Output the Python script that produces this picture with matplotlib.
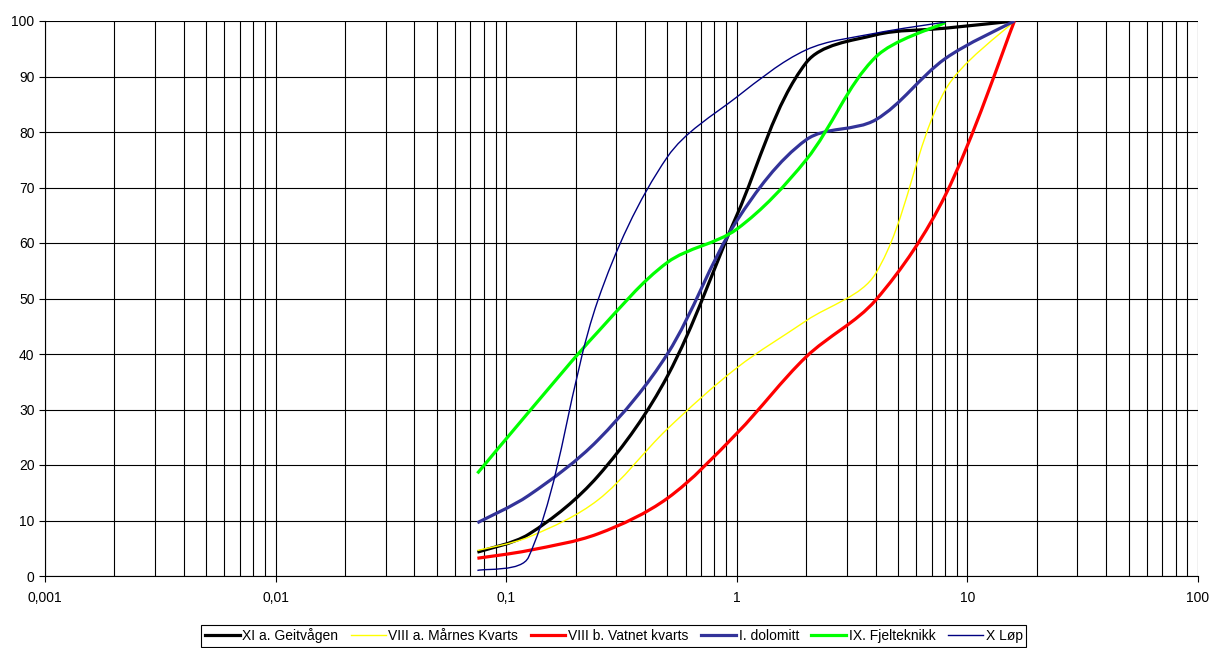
import numpy as np
import matplotlib
matplotlib.use("Agg")
import matplotlib.pyplot as plt
from matplotlib.path import Path
from matplotlib.patches import PathPatch
from matplotlib.lines import Line2D
from matplotlib.ticker import FixedLocator, FuncFormatter, LogLocator

plt.rcParams['font.family'] = ['Liberation Sans', 'DejaVu Sans']

# sieve sizes (mm)
sieves = [0.075, 0.125, 0.25, 0.5, 1, 2, 4, 8, 16]
sieves_short = [0.075, 0.125, 0.25, 0.5, 1, 2, 4, 8]

# passing (%)
geitvagen = [4.3, 7.5, 18, 36, 65, 92.5, 97.5, 98.7, 100]
marnes = [4.6, 7.0, 13.7, 26.5, 37.5, 46, 54.5, 87.5, 100]
vatnet = [3.2, 4.6, 7.6, 14, 25.7, 39.5, 49.7, 68.5, 100]
dolomitt = [9.6, 14.5, 24.5, 40, 64, 78.6, 82.2, 93.2, 100]
fjelteknikk = [18.5, 29.5, 44, 56.5, 62.5, 75, 93.5, 99.7]
lop = [1.0, 3.4, 49.7, 75.5, 86.3, 94.8, 97.8, 99.8]

series = [
    ("XI a. Geitvågen", sieves, geitvagen, "black", 2.3),
    ("VIII a. Mårnes Kvarts", sieves, marnes, "#FFFF00", 1.0),
    ("VIII b. Vatnet kvarts", sieves, vatnet, "#FF0000", 2.3),
    ("I. dolomitt", sieves, dolomitt, "#333399", 2.3),
    ("IX. Fjelteknikk", sieves_short, fjelteknikk, "#00FF00", 2.3),
    ("X Løp", sieves_short, lop, "#000080", 1.0),
]

# rough pixel size of one decade / one percent, used for the smoothing
SX, SY = 230.6, 5.55


def smooth_path(xs, ys):
    # excel-like smoothed line: bezier segments, tangents scaled by chord length
    u = np.log10(xs) * SX
    v = np.asarray(ys, dtype=float) * SY
    n = len(u)
    d = np.hypot(np.diff(u), np.diff(v))
    tan = []
    for i in range(n):
        a = max(i - 1, 0)
        b = min(i + 1, n - 1)
        tan.append((u[b] - u[a], v[b] - v[a]))
    verts = [(xs[0], ys[0])]
    codes = [Path.MOVETO]
    for i in range(n - 1):
        dl = d[i - 1] if i > 0 else d[i]
        dr = d[i + 1] if i + 1 < n - 1 else d[i]
        w1 = d[i] / (dl + d[i]) / 3 if i > 0 else 1 / 6
        w2 = d[i] / (d[i] + dr) / 3 if i + 1 < n - 1 else 1 / 6
        c1 = (u[i] + tan[i][0] * w1, v[i] + tan[i][1] * w1)
        c2 = (u[i + 1] - tan[i + 1][0] * w2, v[i + 1] - tan[i + 1][1] * w2)
        for cu, cv in (c1, c2):
            verts.append((10 ** (cu / SX), cv / SY))
        verts.append((xs[i + 1], ys[i + 1]))
        codes += [Path.CURVE4] * 3
    return Path(verts, codes)


fig = plt.figure(figsize=(12.13, 6.48), dpi=100)
ax = fig.add_axes([45 / 1213, 72 / 648, 1153 / 1213, 555 / 648])
ax.set_xscale("log")
ax.set_xlim(0.001, 100)
ax.set_ylim(0, 100)

ax.xaxis.set_major_locator(LogLocator(base=10, numticks=10))
ax.xaxis.set_minor_locator(LogLocator(base=10, subs=np.arange(2, 10), numticks=20))
ax.xaxis.set_major_formatter(FuncFormatter(lambda v, p: f"{v:g}".replace(".", ",")))
ax.yaxis.set_major_locator(FixedLocator(np.arange(0, 101, 10)))

ax.grid(True, which="both", axis="x", color="black", linewidth=0.8)
ax.grid(True, which="major", axis="y", color="black", linewidth=0.8)
ax.tick_params(axis="both", which="major", direction="out", length=4, width=0.8,
               labelsize=10, color="black")
ax.tick_params(axis="x", which="minor", length=0)
ax.tick_params(axis="x", pad=7)
for s in ["top", "right"]:
    ax.spines[s].set_visible(False)
for s in ["left", "bottom"]:
    ax.spines[s].set_linewidth(0.8)

handles = []
for name, xs, ys, col, lw in series:
    patch = PathPatch(smooth_path(xs, ys), facecolor="none", edgecolor=col,
                      linewidth=lw, capstyle="butt", joinstyle="round", zorder=3)
    ax.add_patch(patch)
    handles.append(Line2D([], [], color=col, linewidth=lw, label=name))

leg = fig.legend(handles=handles, loc="lower center", ncol=6,
                 bbox_to_anchor=(0.506, 0.0), fontsize=10, frameon=True,
                 fancybox=False, edgecolor="black", framealpha=1,
                 handlelength=2.5, handletextpad=0.2, columnspacing=0.9,
                 borderpad=0.25, borderaxespad=0.1)
leg.get_frame().set_linewidth(0.8)

fig.savefig("out.png", dpi=100)
